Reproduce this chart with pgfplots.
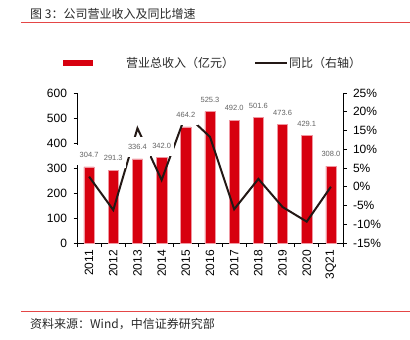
\documentclass[border=0pt]{standalone}
\usepackage{fontspec}
\setmainfont{Liberation Sans}
\newfontfamily\cjk{Noto Sans CJK SC}
\usepackage{pgfplots}
\pgfplotsset{compat=1.18}
\usepackage{pgfplotstable}
\definecolor{cred}{RGB}{215,0,15}
\definecolor{credge}{RGB}{240,150,160}
\definecolor{rulered}{RGB}{228,70,70}
\definecolor{labgray}{RGB}{100,100,100}
\definecolor{linecol}{RGB}{35,24,21}
\definecolor{txt}{RGB}{40,40,40}

\pgfplotstableread{
x rev yoy
0 304.7 2.7
1 291.3 -6.2
2 336.4 15.6
3 342.0 1.8
4 464.2 19.3
5 525.3 13.3
6 492.0 -6.0
7 501.6 2.1
8 473.6 -5.4
9 429.1 -9.3
10 308.0 0.0
}\datatab

\pgfplotsset{
  common/.style={
    at={(77bp,-243bp)}, anchor=south west,
    scale only axis, width=266bp, height=150bp,
    xmin=-0.5, xmax=10.5,
    /pgf/number format/assume math mode=true,
    tick label style={font=\fontsize{12bp}{14bp}\selectfont, text=black},
    tick align=outside,
    major tick length=3.5bp,
    minor tick length=4bp,
    every tick/.style={black, line width=0.8bp},
    axis line style={black, line width=1bp},
  }
}

\begin{document}
\begin{tikzpicture}
\useasboundingbox (0,0) rectangle (410bp,-340bp);

% title and rules
\node[anchor=west, inner sep=0, text=txt, font=\cjk\fontsize{12bp}{14bp}\selectfont] at (30bp,-14bp) {图 3：公司营业收入及同比增速};
\draw[rulered, line width=0.8bp] (21bp,-22.5bp) -- (410bp,-22.5bp);
\draw[rulered, line width=0.8bp] (21bp,-311bp) -- (410bp,-311bp);
\node[anchor=west, inner sep=0, text=txt, font=\cjk\fontsize{12bp}{14bp}\selectfont] at (30bp,-324bp) {资料来源：Wind，中信证券研究部};

% legend
\fill[cred] (63bp,-60bp) rectangle (93bp,-66bp);
\node[anchor=west, inner sep=0, text=txt, font=\cjk\fontsize{12bp}{14bp}\selectfont] at (126bp,-63bp) {营业总收入（亿元）};
\draw[linecol, line width=1.6bp] (255bp,-63bp) -- (287bp,-63bp);
\node[anchor=west, inner sep=0, text=txt, font=\cjk\fontsize{12bp}{14bp}\selectfont] at (289bp,-63bp) {同比（右轴）};

% left axis with bars
\begin{axis}[common,
  ymin=0, ymax=600, ytick={0,100,...,600},
  axis y line*=left, axis x line*=bottom,
  xtick={0,...,10},
  xticklabels={2011,2012,2013,2014,2015,2016,2017,2018,2019,2020,3Q21},
  x tick label style={rotate=90, anchor=east, yshift=0bp},
  major x tick style={draw=none},
  minor xtick={-0.5,0.5,...,10.5},
  y tick label style={xshift=-3bp},
]
\addplot[ybar, bar width=10.3bp, fill=cred, draw=credge, line width=0.5bp] table[x=x, y=rev] {\datatab};
\end{axis}

% right axis with line
\begin{axis}[common,
  ymin=-15, ymax=25, ytick={-15,-10,...,25},
  axis y line*=right, axis x line=none,
  yticklabel={\pgfmathprintnumber{\tick}\%},
  y tick label style={xshift=3bp},
]
\addplot[linecol, line width=2bp, mark=none] table[x=x, y=yoy] {\datatab};
\end{axis}

% data labels on top
\begin{axis}[common,
  ymin=0, ymax=600, hide axis,
]
\addplot[draw=none, mark=none,
  point meta=explicit,
  nodes near coords={\pgfmathprintnumber[fixed,fixed zerofill,precision=1]{\pgfplotspointmeta}},
  every node near coord/.style={anchor=center, yshift=12bp, fill=white, inner sep=0pt,
     minimum width=25bp, minimum height=20bp, text=labgray,
     font=\fontsize{7.5bp}{9bp}\selectfont},
] table[x=x, y=rev, meta=rev] {\datatab};
\end{axis}
\end{tikzpicture}
\end{document}
